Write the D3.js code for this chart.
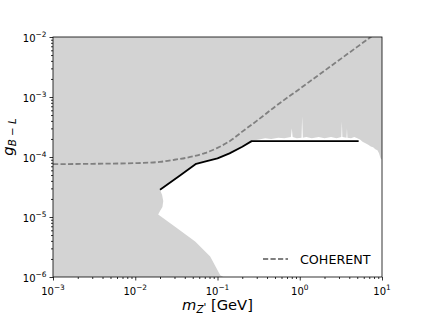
<!DOCTYPE html>
<html>
<head>
<meta charset="utf-8">
<script src="https://cdn.jsdelivr.net/npm/d3@7"></script>
<style>
  body { margin: 0; background: #fff; }
  svg { font-family: "DejaVu Sans", sans-serif; }
</style>
</head>
<body>
<div id="chart"></div>
<script>
// ---- datos ----
const xTicks = [1e-3, 1e-2, 1e-1, 1, 10]
const xTickExp = ["−3", "−2", "−1", "0", "1"]
const yTicks = [1e-6, 1e-5, 1e-4, 1e-3, 1e-2]
const yTickExp = ["−6", "−5", "−4", "−3", "−2"]

// COHERENT (dashed)
const coherentMass = [0.001, 0.003, 0.01, 0.02, 0.03, 0.05, 0.07, 0.1, 0.15, 0.2, 0.3, 0.5, 1, 2, 5, 10]
const coherentG = [7.6e-5, 7.7e-5, 7.9e-5, 8.3e-5, 9.0e-5, 1.02e-4, 1.16e-4, 1.42e-4, 1.95e-4, 2.65e-4, 4.0e-4, 6.9e-4, 1.37e-3, 2.74e-3, 6.85e-3, 1.37e-2]

// black limit line
const limitMass = [0.02, 0.035, 0.055, 0.07, 0.1, 0.14, 0.2, 0.26, 1, 5.2]
const limitG = [2.85e-5, 4.9e-5, 7.7e-5, 8.35e-5, 9.5e-5, 1.15e-4, 1.48e-4, 1.84e-4, 1.84e-4, 1.84e-4]

// grey excluded region outline (top corners, right edge, then lower edge going left)
const excludedMass = [
  0.001, 10, 10, 9.6, 9.2, 8.8, 8.3, 7.8, 7.3, 6.8, 6.3, 5.8, 5.4,
  5.0, 4.6, 4.2, 3.80, 3.75, 3.70, 3.3, 3.25, 3.20, 2.8, 2.4, 2.0, 1.7, 1.4, 1.2, 1.09, 1.07, 1.05, 0.92, 0.82, 0.80, 0.78, 0.65, 0.55, 0.45, 0.38, 0.32, 0.26,
  0.2, 0.14, 0.1, 0.07, 0.055, 0.035, 0.02,
  0.0212, 0.0219, 0.0214, 0.02, 0.019, 0.0305, 0.0535, 0.0815, 0.108, 0.118, 0.001
]
const excludedG = [
  1e-2, 1e-2, 9.0e-5, 9.5e-5, 1.15e-4, 1.3e-4, 1.35e-4, 1.45e-4, 1.5e-4, 1.6e-4, 1.7e-4, 1.8e-4, 1.95e-4,
  2.05e-4, 2.15e-4, 2.05e-4, 2.1e-4, 3.0e-4, 2.1e-4, 2.15e-4, 3.9e-4, 2.15e-4, 2.05e-4, 2.15e-4, 2.05e-4, 2.15e-4, 2.05e-4, 2.15e-4, 2.1e-4, 4.8e-4, 2.1e-4, 2.05e-4, 2.15e-4, 3.0e-4, 2.15e-4, 2.05e-4, 2.1e-4, 2.0e-4, 2.05e-4, 1.95e-4, 1.86e-4,
  1.48e-4, 1.15e-4, 9.5e-5, 8.35e-5, 7.7e-5, 4.9e-5, 2.85e-5,
  2.33e-5, 1.85e-5, 1.47e-5, 1.26e-5, 1.1e-5, 6.9e-6, 3.9e-6, 2.2e-6, 1.07e-6, 1e-6, 1e-6
]

const legendLabel = "COHERENT"

// ---- layout ----
const width = 425
const height = 316
const margin = { top: 37, right: 43, bottom: 39, left: 53 }
const w = width - margin.left - margin.right
const h = height - margin.top - margin.bottom

const svg = d3.select("div#chart")
  .append("svg")
  .attr("width", width)
  .attr("height", height)

const g = svg.append("g")
  .attr("transform", `translate(${margin.left},${margin.top})`)

const x = d3.scaleLog().domain([1e-3, 10]).range([0, w])
const y = d3.scaleLog().domain([1e-6, 1e-2]).range([h, 0])

svg.append("defs").append("clipPath").attr("id", "clip")
  .append("rect").attr("width", w).attr("height", h)

const plot = g.append("g").attr("clip-path", "url(#clip)")

const line = d3.line().x(d => x(d[0])).y(d => y(d[1]))

// grey region
plot.append("path")
  .datum(d3.zip(excludedMass, excludedG))
  .attr("d", d => line(d) + "Z")
  .attr("fill", "#d3d3d3")
  .attr("stroke", "none")

// COHERENT
plot.append("path")
  .datum(d3.zip(coherentMass, coherentG))
  .attr("d", d3.line().x(d => x(d[0])).y(d => y(d[1])).curve(d3.curveMonotoneX))
  .attr("fill", "none")
  .attr("stroke", "#808080")
  .attr("stroke-width", 1.8)
  .attr("stroke-dasharray", "5.2,2.3")

// limit line
plot.append("path")
  .datum(d3.zip(limitMass, limitG))
  .attr("d", line)
  .attr("fill", "none")
  .attr("stroke", "#000")
  .attr("stroke-width", 1.8)
  .attr("stroke-linejoin", "round")

// ---- ejes ----
const minorX = x.ticks().filter(d => !xTicks.some(t => Math.abs(t - d) / t < 1e-6))
const minorY = y.ticks().filter(d => !yTicks.some(t => Math.abs(t - d) / t < 1e-6))

function styleAxis(sel) {
  sel.select(".domain").remove()
  sel.selectAll(".tick line").attr("stroke", "#000").attr("stroke-width", 0.8)
  sel.selectAll(".tick text").remove()
}

g.append("g").attr("transform", `translate(0,${h})`)
  .call(d3.axisBottom(x).tickValues(minorX).tickSize(2).tickSizeOuter(0))
  .call(styleAxis)
g.append("g").attr("transform", `translate(0,${h})`)
  .call(d3.axisBottom(x).tickValues(xTicks).tickSize(3.5).tickSizeOuter(0))
  .call(styleAxis)
g.append("g")
  .call(d3.axisLeft(y).tickValues(minorY).tickSize(2).tickSizeOuter(0))
  .call(styleAxis)
g.append("g")
  .call(d3.axisLeft(y).tickValues(yTicks).tickSize(3.5).tickSizeOuter(0))
  .call(styleAxis)

// tick labels 10^n
const xLab = g.selectAll("text.xtick").data(xTicks).join("text")
  .attr("class", "xtick")
  .attr("x", d => x(d))
  .attr("y", h + 18)
  .attr("text-anchor", "middle")
  .attr("font-size", 10)
xLab.append("tspan").text("10")
xLab.append("tspan").attr("dy", -4.6).attr("font-size", 7.4).text((d, i) => xTickExp[i])

const yLab = g.selectAll("text.ytick").data(yTicks).join("text")
  .attr("class", "ytick")
  .attr("x", -6.5)
  .attr("y", d => y(d) + 4.8)
  .attr("text-anchor", "end")
  .attr("font-size", 10)
yLab.append("tspan").text("10")
yLab.append("tspan").attr("dy", -4.6).attr("font-size", 7.4).text((d, i) => yTickExp[i])

// frame
g.append("rect")
  .attr("width", w).attr("height", h)
  .attr("fill", "none").attr("stroke", "#000").attr("stroke-width", 0.8)

// axis labels
const xTitle = svg.append("text")
  .attr("x", margin.left + w / 2)
  .attr("y", 310)
  .attr("text-anchor", "middle")
  .attr("font-size", 14.7)
xTitle.append("tspan").attr("font-style", "italic").text("m")
xTitle.append("tspan").attr("font-style", "italic").attr("font-size", 10.3).attr("dy", 3).text("Z")
xTitle.append("tspan").attr("font-size", 10.3).attr("dy", -2).text("'")
xTitle.append("tspan").attr("dy", -1).text(" [GeV]")

const yTitle = svg.append("text")
  .attr("transform", "translate(13,137) rotate(-90)")
  .attr("text-anchor", "middle")
  .attr("font-size", 14.7)
yTitle.append("tspan").attr("font-style", "italic").text("g")
yTitle.append("tspan").attr("font-style", "italic").attr("font-size", 10.3).attr("dy", 2.5).text("B − L")

// legend
const legend = g.append("g").attr("transform", `translate(${263 - margin.left},${259 - margin.top})`)
legend.append("line")
  .attr("x1", 0).attr("x2", 25)
  .attr("stroke", "#808080").attr("stroke-width", 1.8)
  .attr("stroke-dasharray", "5.2,2.3")
legend.append("text")
  .attr("x", 37).attr("y", 4.6)
  .attr("font-size", 12.7)
  .text(legendLabel)
</script>
</body>
</html>
